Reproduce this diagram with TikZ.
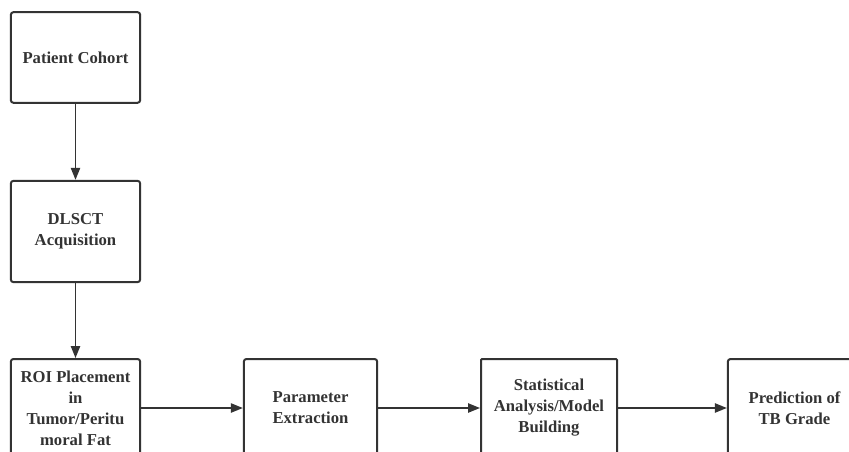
\documentclass[tikz,border=0pt]{standalone}
\usepackage{fontspec}
\setmainfont{Liberation Serif}
\usetikzlibrary{arrows.meta}
\definecolor{ink}{HTML}{333333}

\begin{document}
\begin{tikzpicture}[x=0.75pt, y=-0.75pt,
    box/.style={draw=ink, line width=1.5pt, rounded corners=2pt, align=center, text=ink,
        font=\fontsize{12.5}{15.75}\selectfont\bfseries, inner sep=0pt, minimum height=73.5pt},
    flow/.style={draw=ink, line width=1.1pt, -{Triangle[width=7pt,length=9pt]}}]
    \useasboundingbox (0,0) rectangle (849,452);
    \clip (0,0) rectangle (849,452);
    \node[box, minimum width=97pt, minimum height=68pt] (cohort) at (75.5,57.5) {Patient Cohort};   %patient cohort
    \node[box, minimum width=97pt, minimum height=76pt] (dlsct) at (75.5,231.5) {DLSCT\\Acquisition};   %scanning
    \node[box, minimum width=97pt] (roi) at (75.5,408) {ROI Placement\\in\\Tumor/Peritu\\moral Fat};   %ROI
    \node[box, minimum width=100pt] (param) at (310.5,408) {Parameter\\Extraction};
    \node[box, minimum width=102pt, rounded corners=0.8pt] (stats) at (549,408) {Statistical\\Analysis/Model\\Building};
    \node[box, minimum width=100pt] (pred) at (794.5,408) {Prediction of\\TB Grade};   %outcome
    \draw[flow] (cohort) -- (dlsct);
    \draw[flow] (dlsct) -- (roi);
    \draw[flow] (roi) -- (param);
    \draw[flow] (param) -- (stats);
    \draw[flow] (stats) -- (pred);
\end{tikzpicture}
\end{document}
